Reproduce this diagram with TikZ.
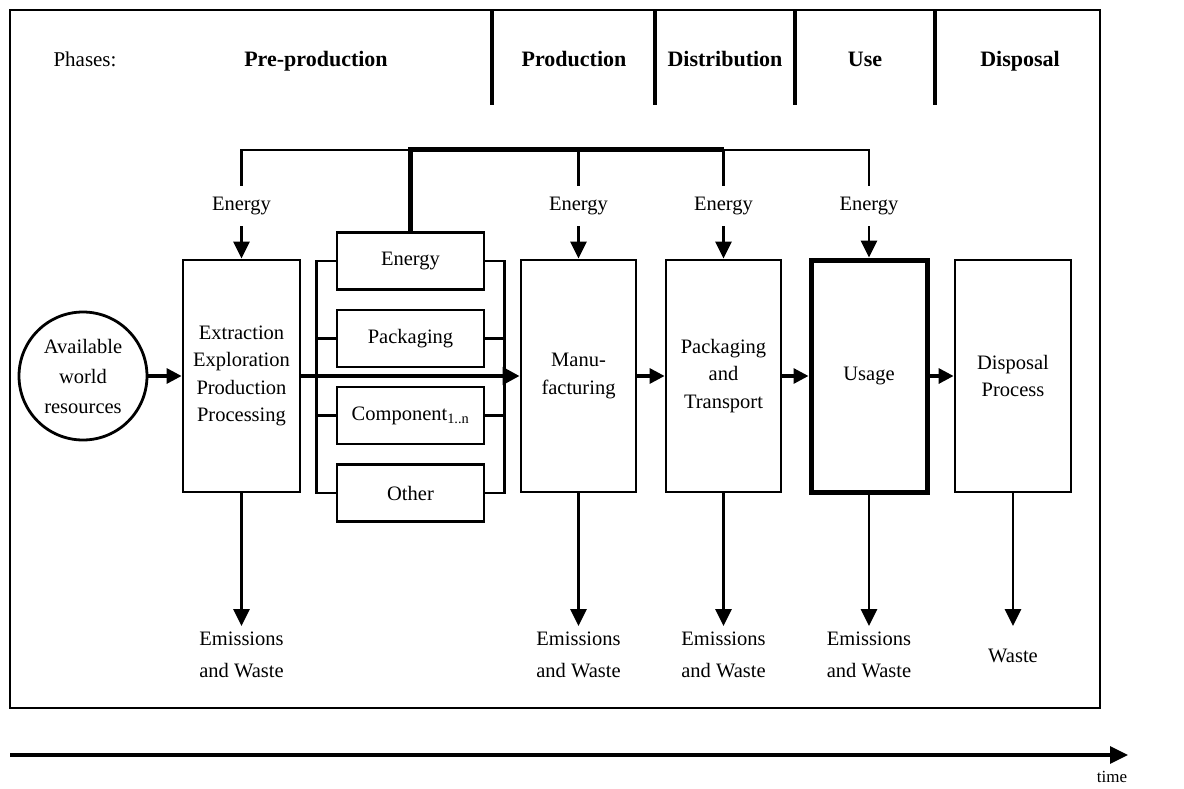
\documentclass[tikz,border=0pt]{standalone}
\usepackage{fontspec}
\setmainfont{Liberation Serif}
\usetikzlibrary{arrows.meta}
\begin{document}
\begin{tikzpicture}[x=1pt,y=-1pt,
  ln/.style={line width=2.8pt},
  thk/.style={line width=5pt},
  arr/.style={line width=2.8pt,-{Triangle[length=17pt,width=16pt]}},
  sarr/.style={line width=3.2pt,-{Triangle[length=15pt,width=15pt]}},
  proc/.style={draw,line width=2.8pt,minimum height=232pt,inner sep=0pt,align=center,font=\fontsize{20.5}{27.5}\selectfont},
  sub/.style={draw,line width=2.8pt,minimum width=147pt,minimum height=57pt,inner sep=0pt,font=\fontsize{20.5}{27}\selectfont},
  lab/.style={font=\fontsize{20.5}{27}\selectfont,inner sep=11pt,align=center},
  elab/.style={font=\fontsize{20.5}{32}\selectfont,inner sep=3pt,align=center,anchor=north},
  hdr/.style={font=\fontsize{22}{26}\selectfont\bfseries,anchor=base}
]
\useasboundingbox (0,0) rectangle (1184,789);
% frame
\draw[line width=2.8pt] (10,10) rectangle (1100,708);
% header separators
\foreach \x in {492,655,795,935} \draw[line width=3.2pt] (\x,10) -- (\x,105);
\node[font=\fontsize{21}{26}\selectfont,anchor=base] (ph) at (85,67) {Phases:};
\node[hdr] (h1) at (316,67) {Pre-production};
\node[hdr] (h2) at (574,67) {Production};
\node[hdr] (h3) at (725,67) {Distribution};
\node[hdr] (h4) at (865,67) {Use};
\node[hdr] (h5) at (1020,67) {Disposal};

% circle
\node[draw,circle,line width=2.8pt,minimum size=128pt,inner sep=0pt,align=center,font=\fontsize{20.5}{30}\selectfont] (res) at (83,376) {Available\\world\\resources};

% process boxes
\node[proc,minimum width=117pt] (ext) at (241.5,376) {Extraction\\Exploration\\Production\\Processing};
\node[proc,minimum width=115pt] (man) at (578.5,376) {Manu-\\facturing};
\node[proc,minimum width=115pt] (pak) at (723.5,376) {Packaging\\and\\Transport};
\node[proc,minimum width=116pt,line width=5pt] (use) at (869,376) {Usage};
\node[proc,minimum width=116pt] (dis) at (1013,376) {Disposal\\Process};

% sub boxes
\node[sub] (sE) at (410.5,261) {Energy};
\node[sub] (sP) at (410.5,338.5) {Packaging};
\node[sub] (sC) at (410.5,415.5) {Component\textsubscript{1..n}};
\node[sub] (sO) at (410.5,493) {Other};

% brackets
\draw[ln] (sE.west) -- ++(-19,0) |- (sO.west);
\draw[ln] (sP.west) -- ++(-19,0);
\draw[ln] (sC.west) -- ++(-19,0);
\draw[ln] (sE.east) -- ++(19,0) |- (sO.east);
\draw[ln] (sP.east) -- ++(19,0);
\draw[ln] (sC.east) -- ++(19,0);

% energy labels
\node[lab] (e1) at (241.5,206) {Energy};
\node[lab] (e2) at (578.5,206) {Energy};
\node[lab] (e3) at (723.5,206) {Energy};
\node[lab] (e4) at (869,206) {Energy};
\coordinate (tE) at (410.5,150);
\coordinate (t3) at (723.5,150);
\draw[ln] (e1.north) |- (tE);
\draw[thk] (sE.north) -- (tE) -- (t3);
\draw[ln] (e2.north) -- (e2.north |- tE);
\draw[ln] (e3.north) -- (t3) -- (e4.north |- t3) -- (e4.north);
\draw[arr] (e1.south) -- (ext.north);
\draw[arr] (e2.south) -- (man.north);
\draw[arr] (e3.south) -- (pak.north);
\draw[arr] (e4.south) -- (use.north);

% horizontal flow
\draw[sarr] (res.east) -- (ext.west);
\draw[line width=4.5pt,-{Triangle[length=17pt,width=17pt]}] (ext.east) -- (man.west);
\draw[sarr] (man.east) -- (pak.west);
\draw[sarr] (pak.east) -- (use.west);
\draw[sarr] (use.east) -- (dis.west);

% outputs
\node[elab] (o1) at (241.5,629) {Emissions\\and Waste};
\node[elab] (o2) at (578.5,629) {Emissions\\and Waste};
\node[elab] (o3) at (723.5,629) {Emissions\\and Waste};
\node[elab] (o4) at (869,629) {Emissions\\and Waste};
\node[font=\fontsize{20.5}{27}\selectfont] (o5) at (1013,656) {Waste};
\coordinate (w1) at (241.5,626);
\coordinate (w2) at (578.5,626);
\coordinate (w3) at (723.5,626);
\coordinate (w4) at (869,626);
\coordinate (w5) at (1013,626);
\draw[arr] (ext.south) -- (w1);
\draw[arr] (man.south) -- (w2);
\draw[arr] (pak.south) -- (w3);
\draw[arr] (use.south) -- (w4);
\draw[arr] (dis.south) -- (w5);

% time axis
\coordinate (ts) at (10,755);
\coordinate (te) at (1128,755);
\draw[line width=3.2pt,-{Triangle[length=18pt,width=17pt]}] (ts) -- (te);
\node[font=\fontsize{17}{20}\selectfont] (time) at (1112,777) {time};
\end{tikzpicture}
\end{document}
